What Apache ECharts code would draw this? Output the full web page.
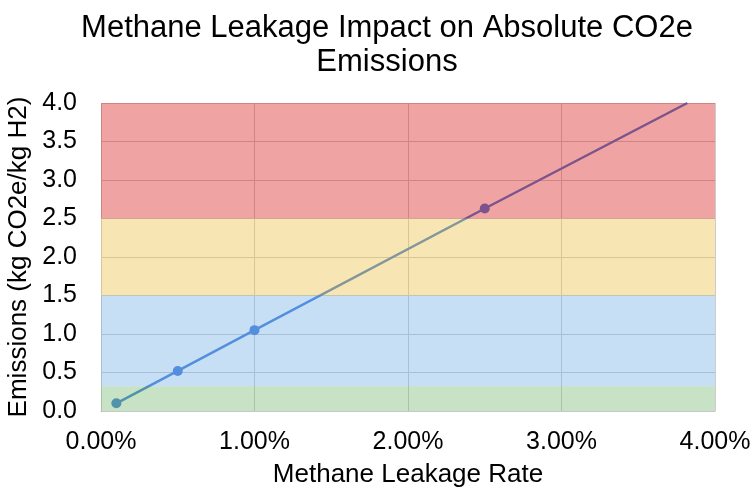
<!DOCTYPE html>
<html>
<head>
<meta charset="utf-8">
<script src="https://cdn.jsdelivr.net/npm/echarts@6/dist/echarts.min.js"></script>
<style>
html,body{margin:0;padding:0;background:#fff;}
#chart{width:753px;height:489px;}
</style>
</head>
<body>
<div id="chart"></div>
<script>
// Data
var leakageRates = [0.1, 0.5, 1.0, 2.5, 3.82];   // percent
var emissions = [0.10, 0.52, 1.05, 2.63, 4.0];    // kg CO2e / kg H2
var markerShown = [true, true, true, true, false];
var bandNames = ['low', 'moderate', 'elevated', 'high'];
var bandFrom = [0, 0.32, 1.5, 2.5];
var bandTo = [0.32, 1.5, 2.5, 4.0];
var bandColors = ['rgba(115,182,107,0.4)', 'rgba(115,175,230,0.4)', 'rgba(235,192,67,0.4)', 'rgba(218,25,25,0.4)'];

var lineData = leakageRates.map(function (x, i) {
  return { value: [x, emissions[i]], symbolSize: markerShown[i] ? 10 : 0 };
});
var areas = bandFrom.map(function (f, i) {
  return [{ name: bandNames[i], yAxis: f, itemStyle: { color: bandColors[i] } }, { yAxis: bandTo[i] }];
});

var FONT = 'Liberation Sans';
var chart = echarts.init(document.getElementById('chart'), null, { renderer: 'canvas' });
chart.setOption({
  animation: false,
  title: {
    text: 'Methane Leakage Impact on Absolute CO2e\nEmissions',
    left: 382, top: 6, textAlign: 'center',
    textStyle: { fontFamily: FONT, fontSize: 31, fontWeight: 'normal', color: '#000', lineHeight: 34 }
  },
  grid: { left: 101, right: 38, top: 103, bottom: 78, containLabel: false, outerBoundsMode: 'none' },
  xAxis: {
    type: 'value', min: 0, max: 4, interval: 1,
    name: 'Methane Leakage Rate', nameLocation: 'middle', nameGap: 51,
    nameTextStyle: { fontFamily: FONT, fontSize: 26, color: '#000' },
    axisLine: { show: true, lineStyle: { color: '#c8c8c8' } },
    axisTick: { show: false },
    axisLabel: { fontFamily: FONT, fontSize: 25, color: '#000', margin: 19,
      formatter: function (v) { return v.toFixed(2) + '%'; } },
    splitLine: { show: true, lineStyle: { color: '#cccccc', width: 1 } }
  },
  yAxis: {
    type: 'value', min: 0, max: 4, interval: 0.5,
    name: 'Emissions (kg CO2e/kg H2)', nameLocation: 'middle', nameGap: 62,
    nameTextStyle: { fontFamily: FONT, fontSize: 26, color: '#000' },
    axisLine: { show: false }, axisTick: { show: false },
    axisLabel: { fontFamily: FONT, fontSize: 25, color: '#000', margin: 24,
      formatter: function (v) { return v.toFixed(1); } },
    splitLine: { show: true, lineStyle: { color: '#cccccc', width: 1 } }
  },
  series: [
    {
      type: 'line', z: 2, data: lineData, symbol: 'circle',
      lineStyle: { color: '#3f7ad6', width: 2.5 },
      itemStyle: { color: '#3f7ad6' }
    },
    {
      type: 'line', z: 5, data: [], silent: true,
      markArea: { silent: true, z: 10, label: { show: false }, data: areas }
    }
  ]
});
</script>
</body>
</html>
